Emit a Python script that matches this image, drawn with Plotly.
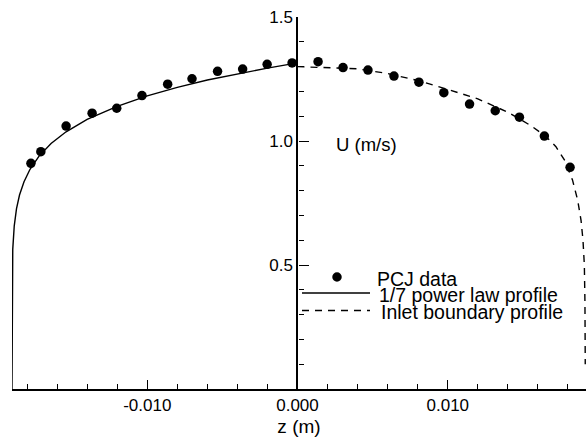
import plotly.graph_objects as go

# PCJ measurements: radial position z (m) and mean axial velocity U (m/s)
pcj_z = [-0.01774, -0.01708, -0.01540, -0.01367, -0.01203, -0.01035, -0.00864, -0.00702,
         -0.00532, -0.00365, -0.00202, -0.00036, 0.00137, 0.00303, 0.00469, 0.00642,
         0.00808, 0.00974, 0.01145, 0.01316, 0.01477, 0.01643, 0.01814]
pcj_u = [0.910, 0.957, 1.060, 1.112, 1.132, 1.183, 1.229, 1.251, 1.281, 1.290, 1.309, 1.315,
         1.320, 1.296, 1.286, 1.262, 1.237, 1.195, 1.149, 1.122, 1.096, 1.020, 0.894]

# 1/7 power law profile (left half of the pipe)
power_z = [-0.01900, -0.01899, -0.01895, -0.01885, -0.01870, -0.01850, -0.01820, -0.01780,
           -0.01720, -0.01640, -0.01540, -0.01400, -0.01200, -0.01000, -0.00800, -0.00600,
           -0.00400, -0.00200, 0.00000]
power_u = [0.000, 0.447, 0.563, 0.658, 0.727, 0.782, 0.836, 0.886,
           0.939, 0.990, 1.037, 1.087, 1.140, 1.182, 1.216, 1.246,
           1.271, 1.294, 1.315]

# Inlet boundary profile (right half of the pipe)
inlet_z = [0.00000, 0.00200, 0.00400, 0.00600, 0.00800, 0.01000, 0.01200, 0.01400,
           0.01550, 0.01650, 0.01720, 0.01780, 0.01830, 0.01865, 0.01887, 0.01900,
           0.01909, 0.01913, 0.01915]
inlet_u = [1.300, 1.297, 1.291, 1.272, 1.244, 1.208, 1.170, 1.116,
           1.063, 1.020, 0.977, 0.920, 0.843, 0.760, 0.680, 0.600,
           0.500, 0.350, 0.100]

# Axis ticks
x_tick_vals = [-0.010, 0.000, 0.010]
x_tick_text = ["-0.010", "0.000", "0.010"]
x_minor_vals = [round(-0.018 + 0.002 * i, 3) for i in range(19)]
y_tick_vals = [0.5, 1.0, 1.5]
y_tick_text = ["0.5", "1.0", "1.5"]
y_minor_vals = [round(0.1 * i, 1) for i in range(1, 15)]

legend_labels = ["PCJ data", "1/7 power law profile", "Inlet boundary profile"]

X_RANGE = [-0.0190, 0.0192]
Y_RANGE = [0.0, 1.5]
W, H = 586, 445
ML, MR, MT, MB = 12, 0, 17, 56
PW, PH = W - ML - MR, H - MT - MB

FONT = "Liberation Sans, Arial, Helvetica, sans-serif"


def px_to_paper(px, py):
    return (px - ML) / PW, (H - MB - py) / PH


fig = go.Figure()

fig.add_trace(go.Scatter(
    x=power_z, y=power_u, mode="lines",
    line=dict(color="black", width=1.4), showlegend=False, hoverinfo="skip"))

fig.add_trace(go.Scatter(
    x=inlet_z, y=inlet_u, mode="lines",
    line=dict(color="black", width=1.4, dash="7px,6px"), showlegend=False, hoverinfo="skip"))

fig.add_trace(go.Scatter(
    x=pcj_z, y=pcj_u, mode="markers",
    marker=dict(color="black", size=9.5, line=dict(width=0)), showlegend=False))

# y axis sits on z = 0
y_axis_pos = (0 - X_RANGE[0]) / (X_RANGE[1] - X_RANGE[0])

fig.update_layout(
    width=W, height=H,
    margin=dict(l=ML, r=MR, t=MT, b=MB, pad=0),
    paper_bgcolor="white", plot_bgcolor="white",
    font=dict(family=FONT, color="black"),
    showlegend=False,
    xaxis=dict(
        range=X_RANGE, showgrid=False, zeroline=False,
        showline=True, linecolor="black", linewidth=2,
        tickmode="array", tickvals=x_tick_vals, ticktext=x_tick_text,
        ticks="inside", ticklen=9, tickwidth=1.2, tickcolor="black",
        minor=dict(tickmode="array", tickvals=x_minor_vals, ticks="inside",
                   ticklen=5, tickwidth=1, tickcolor="black"),
        tickfont=dict(size=17, family=FONT, color="black"),
        title=dict(text="z (m)", font=dict(size=19, family=FONT, color="black"), standoff=5),
    ),
    yaxis=dict(
        range=Y_RANGE, showgrid=False, zeroline=False,
        anchor="free", position=y_axis_pos, side="left",
        showline=True, linecolor="black", linewidth=2.2,
        tickmode="array", tickvals=y_tick_vals, ticktext=y_tick_text,
        ticks="inside", ticklen=10, tickwidth=1.2, tickcolor="black",
        minor=dict(tickmode="array", tickvals=y_minor_vals, ticks="inside",
                   ticklen=5, tickwidth=1, tickcolor="black"),
        tickfont=dict(size=17, family=FONT, color="black"),
    ),
)

# Quantity label inside the plot
fig.add_annotation(x=0.0024, y=0.984, xref="x", yref="y", text="U (m/s)",
                   showarrow=False, xanchor="left", yanchor="middle",
                   font=dict(size=18.5, family=FONT, color="black"))

# Hand-drawn legend
dot_x, dot_y = px_to_paper(337, 277)
rx = 4.75 / PW
ry = 4.75 / PH
fig.add_shape(type="circle", xref="paper", yref="paper",
              x0=dot_x - rx, x1=dot_x + rx, y0=dot_y - ry, y1=dot_y + ry,
              fillcolor="black", line=dict(width=0))

lx0, ly_solid = px_to_paper(302, 293)
lx1, _ = px_to_paper(370, 293)
_, ly_dash = px_to_paper(302, 310.5)
fig.add_shape(type="line", xref="paper", yref="paper", x0=lx0, x1=lx1,
              y0=ly_solid, y1=ly_solid, line=dict(color="black", width=1.3))
fig.add_shape(type="line", xref="paper", yref="paper", x0=lx0, x1=lx1,
              y0=ly_dash, y1=ly_dash, line=dict(color="black", width=1.3, dash="7px,6px"))

label_pos = [(375, 279), (377, 295), (379, 312)]
for label, (tx, ty) in zip(legend_labels, label_pos):
    ax, ay = px_to_paper(tx, ty)
    fig.add_annotation(x=ax, y=ay, xref="paper", yref="paper", text=label,
                       showarrow=False, xanchor="left", yanchor="middle",
                       font=dict(size=19.5, family=FONT, color="black"))

fig.write_html("out.html")
